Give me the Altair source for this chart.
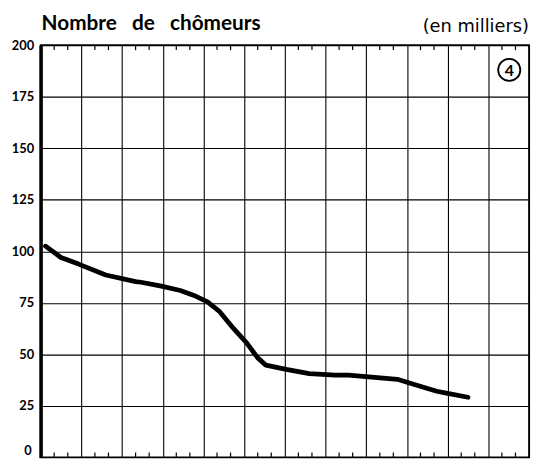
import altair as alt
import pandas as pd

# Data (x in months from the start, y in thousands)
months = [0.36, 1.5, 2.8, 4.8, 7.0, 7.4, 8.9, 10.3, 11.3, 12.3, 13.2, 14.2, 15.2,
          16.0, 16.6, 18.1, 19.8, 21.7, 22.7, 24.6, 26.3, 27.3, 29.2, 29.9, 31.5]
values = [102.5, 97, 93.8, 88.5, 85.3, 85, 83.1, 81, 78.6, 75.5, 70.7, 62.7, 55.5,
          48.3, 44.8, 42.7, 40.7, 39.9, 39.9, 38.8, 37.9, 35.9, 32.1, 31.2, 29.2]
quarter_lines = list(range(0, 37, 3))
y_ticks = list(range(25, 201, 25))
y_zero = [0]
minor_months = [m for m in range(1, 36) if m % 3]
title_text = "Nombre\u00a0\u00a0\u00a0de\u00a0\u00a0\u00a0chômeurs"
unit_text = "(en\u00a0milliers)"
badge_text = "4"

W, H = 494, 417

line_df = pd.DataFrame({"m": months, "v": values})
minor_df = pd.DataFrame(
    [{"m": m, "y1": 0, "y2": 2.4} for m in minor_months]
    + [{"m": m, "y1": 197.6, "y2": 200} for m in minor_months]
)
zero_df = pd.DataFrame({"v": y_zero, "lab": [str(v) for v in y_zero]})
one = pd.DataFrame({"a": [0]})

xs = alt.Scale(domain=[0, 36], nice=False, zero=False)
ys = alt.Scale(domain=[0, 200], nice=False)

base_x_axis = alt.Axis(values=quarter_lines, grid=True, gridColor="black", gridWidth=1.1,
                       gridOpacity=1, labels=False, ticks=False, domain=False, title=None)
base_y_axis = alt.Axis(values=y_ticks, grid=True, gridColor="black", gridWidth=1.1,
                       gridOpacity=1, ticks=False, domain=True, domainColor="black",
                       domainWidth=3.5, labelFont="Lato", labelFontWeight="bold",
                       labelFontSize=13, labelColor="black", labelPadding=7, title=None)

line = alt.Chart(line_df).mark_line(color="black", strokeWidth=4.8, strokeCap="round",
                                    strokeJoin="round").encode(
    x=alt.X("m:Q", scale=xs, axis=base_x_axis),
    y=alt.Y("v:Q", scale=ys, axis=base_y_axis),
)

minor = alt.Chart(minor_df).mark_rule(color="black", strokeWidth=1.2).encode(
    x=alt.X("m:Q", scale=xs),
    y=alt.Y("y1:Q", scale=ys),
    y2="y2:Q",
)

zero_lab = alt.Chart(zero_df).mark_text(font="Lato", fontWeight="bold", fontSize=13,
                                        align="right", baseline="bottom",
                                        color="black", dy=1).encode(
    x=alt.value(-9),
    y=alt.Y("v:Q", scale=ys),
    text="lab:N",
)

title = alt.Chart(one).mark_text(text=title_text, font="Lato", fontWeight="bold",
                                 fontSize=21, align="left", baseline="alphabetic",
                                 color="black").encode(
    x=alt.value(1), y=alt.value(-15))

unit = alt.Chart(one).mark_text(text=unit_text, font="DejaVu Sans", fontSize=18,
                                align="right", baseline="alphabetic",
                                color="black").encode(
    x=alt.value(494), y=alt.value(-13))

badge = alt.Chart(one).mark_point(shape="circle", size=500, filled=False,
                                  color="black", strokeWidth=1.8, fill="white",
                                  fillOpacity=1).encode(
    x=alt.value(474), y=alt.value(25))

badge_t = alt.Chart(one).mark_text(text=badge_text, font="Lato", fontWeight="bold",
                                   fontSize=16, align="center", baseline="middle",
                                   color="black").encode(
    x=alt.value(474), y=alt.value(26))

chart = alt.layer(minor, line, zero_lab, title, unit, badge, badge_t).properties(
    width=W, height=H,
    autosize=alt.AutoSizeParams(type="none"),
    padding={"left": 33, "top": 35, "right": 2, "bottom": 2},
    background="white",
).configure_view(stroke="black", strokeWidth=1.8)

chart.save("out.html", embed_options={"renderer": "svg", "actions": False})
